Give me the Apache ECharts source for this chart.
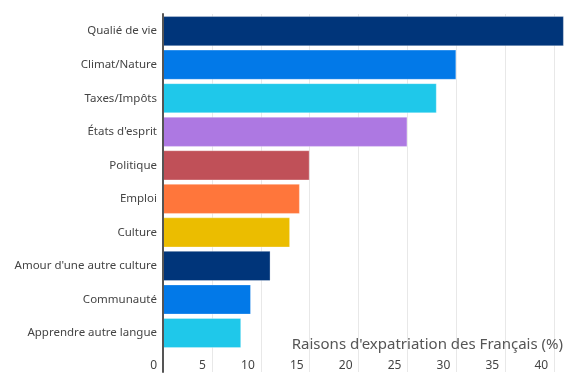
<!DOCTYPE html>
<html>
<head>
<meta charset="utf-8">
<script src="https://cdn.jsdelivr.net/npm/echarts@6/dist/echarts.min.js"></script>
<style>html,body{margin:0;padding:0;background:#fff}#c{width:585px;height:383px}</style>
</head>
<body>
<div id="c"></div>
<script>
var categories = ["Qualié de vie","Climat/Nature","Taxes/Impôts","États d'esprit","Politique","Emploi","Culture","Amour d'une autre culture","Communauté","Apprendre autre langue"];
var values = [41, 30, 28, 25, 15, 14, 13, 11, 9, 8];
var colors = ["#00357a","#0279e8","#1fc8ea","#ad78e2","#c05058","#ff763b","#ebbd00","#00357a","#0279e8","#1fc8ea"];
var xTicks = [0, 5, 10, 15, 20, 25, 30, 35, 40];
var titleText = "Raisons d'expatriation des Français (%)";

var FONT = "Noto Sans";
var chart = echarts.init(document.getElementById('c'));
chart.setOption({
  animation: false,
  textStyle: {fontFamily: FONT},
  title: {
    text: titleText, right: 17, top: 332,
    textStyle: {fontFamily: FONT, fontSize: 15, fontWeight: 'normal', color: '#555'}
  },
  grid: [
    {left: 163, right: -18, top: 14.4, bottom: 33.2, outerBoundsMode: 'none', containLabel: false},
    {left: 163, right: -18, top: 14, bottom: 11, outerBoundsMode: 'none', containLabel: false}
  ],
  xAxis: [
    {gridIndex: 0, type: 'value', min: 0, max: 45, interval: 5, show: false},
    {gridIndex: 1, type: 'value', min: 0, max: 45, interval: 5,
     axisLine: {show: false}, axisTick: {show: false},
     splitLine: {show: true, lineStyle: {color: '#e8e8e8', width: 1}},
     axisLabel: {inside: true, margin: 0, align: 'right', padding: [0, 6, 0, 0],
       color: '#444', fontSize: 12, fontFamily: FONT,
       formatter: function (v) { return xTicks.indexOf(v) >= 0 ? String(v) : ''; }}
    }
  ],
  yAxis: [
    {gridIndex: 0, type: 'category', inverse: true, data: categories,
     axisLine: {show: false}, axisTick: {show: false}, splitLine: {show: false},
     axisLabel: {margin: 6, color: '#444', fontSize: 11.5, fontFamily: FONT}},
    {gridIndex: 1, type: 'value', min: 0, max: 1, z: 5,
     axisLine: {show: true, lineStyle: {color: '#555', width: 2}},
     axisTick: {show: false}, axisLabel: {show: false}, splitLine: {show: false}}
  ],
  series: [{
    type: 'bar', xAxisIndex: 0, yAxisIndex: 0,
    barCategoryGap: '10%',
    data: values.map(function (v, i) {
      return {value: v, itemStyle: {color: colors[i]}};
    }),
    itemStyle: {borderColor: 'rgba(255,255,255,0.3)', borderWidth: 1}
  }]
});
</script>
</body>
</html>
